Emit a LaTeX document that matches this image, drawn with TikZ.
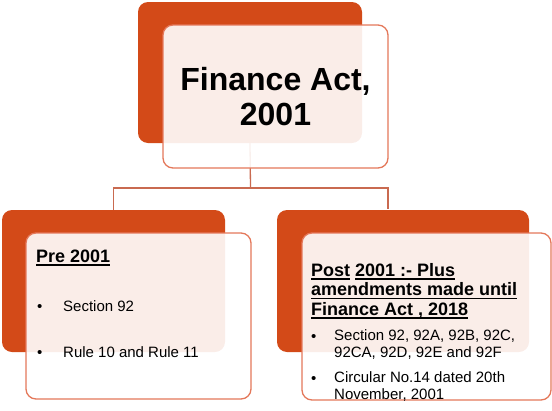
\documentclass[tikz,border=0pt]{standalone}
\usepackage{fontspec}
\setmainfont{Liberation Sans}
\usetikzlibrary{positioning}

\definecolor{backorange}{HTML}{D34A18}
\definecolor{edgeorange}{HTML}{E4785A}
\definecolor{linkorange}{HTML}{C96A50}
\newcommand{\undl}[1]{\setbox0\hbox{#1}\rlap{\rule[-3.5pt]{\wd0}{1.4pt}}\box0\relax}

\tikzset{
  backbox/.style={rectangle, rounded corners=10pt, fill=backorange, inner sep=0pt},
  frontbox/.style={rectangle, rounded corners=10pt, draw=edgeorange, line width=1.3pt,
    fill=white, fill opacity=0.9, text opacity=1, inner sep=0pt},
  link/.style={draw=linkorange, line width=1.3pt},
  headtext/.style={anchor=base west, inner sep=0pt, align=left,
    font=\fontsize{18}{19.5}\selectfont\bfseries},
  itemtext/.style={anchor=base west, inner sep=0pt, align=left,
    font=\fontsize{15}{16.3}\selectfont},
}

\begin{document}
\begin{tikzpicture}[x=1pt,y=-1pt]
  \useasboundingbox (0,0) rectangle (552,410);

  % back boxes
  \node[backbox, minimum width=224pt, minimum height=141pt] (topback) at (250,72.5) {};
  \node[backbox, minimum width=223pt, minimum height=142pt] (preback) at (113.5,281) {};
  \node[backbox, minimum width=252pt, minimum height=142pt] (postback) at (403,281) {};

  % links
  \coordinate (fork) at (250.5,188);
  \coordinate (postdrop) at (388,209);
  \draw[link] (topback.south) -- (fork);
  \draw[link] (fork) -| (preback.north);
  \draw[link] (fork) -| (postdrop);

  % front boxes
  \node[frontbox, minimum width=225pt, minimum height=143pt, align=center,
        font=\fontsize{32}{35}\selectfont\bfseries] (topfront) at (275.5,96.5) {Finance Act,\\2001};
  \node[frontbox, minimum width=225pt, minimum height=166pt] (prefront) at (138.5,316) {};
  \node[frontbox, minimum width=249pt, minimum height=167pt] (postfront) at (426.5,316.5) {};

  % pre 2001 (base = last line)
  \node[headtext] (prehead) at (36,262) {\undl{Pre 2001}};
  \node[itemtext] (prebul1) at (37,311) {\textbullet};
  \node[itemtext] (preitem1) at (63,311) {Section 92};
  \node[itemtext] (prebul2) at (37,357) {\textbullet};
  \node[itemtext] (preitem2) at (63,357) {Rule 10 and Rule 11};

  % post 2001
  \node[headtext] (posthead) at (311,315) {\undl{Post} \undl{2001 :- Plus}\\
    \undl{amendments made until}\\\undl{Finance Act , 2018}};
  \node[itemtext] (postbul1) at (311,341) {\textbullet};
  \node[itemtext] (postitem1) at (334,357) {Section 92, 92A, 92B, 92C,\\92CA, 92D, 92E and 92F};
  \node[itemtext] (postbul2) at (311,383) {\textbullet};
  \node[itemtext] (postitem2) at (334,399) {Circular No.14 dated 20th\\November, 2001};
\end{tikzpicture}
\end{document}
